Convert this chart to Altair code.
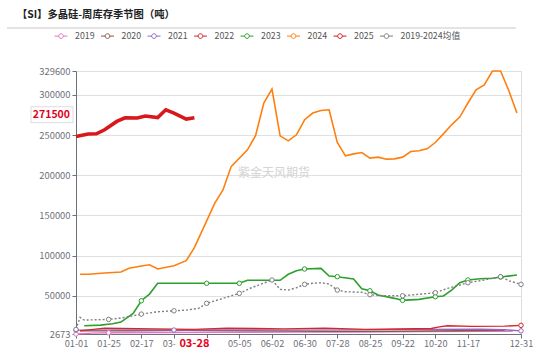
import altair as alt
import pandas as pd

FONT = "Noto Sans CJK SC"
TITLE = "【SI】多晶硅-周库存季节图（吨）"
WATERMARK = "紫金天风期货"

SERIES = ["2019", "2020", "2021", "2022", "2023", "2024", "2025", "2019-2024均值"]
COLORS = ["#e377c2", "#8c564b", "#9467bd", "#d62728", "#2ca02c", "#ff7f0e", "#d7191c", "#7f7f7f"]
WIDTHS = [1.4, 1.4, 1.4, 1.4, 1.6, 1.6, 3.6, 1.4]
AVG = "2019-2024均值"

# category axis: index of week-category -> label
TICK_IDX = [0, 8, 16, 24, 32, 40, 48, 56, 64, 72, 80, 88, 96, 109]
TICK_LABELS = ["01-01", "01-25", "02-17", "03-08", "", "05-05", "06-02", "06-30",
               "07-28", "08-25", "09-22", "10-20", "11-17", "12-31"]
Y_TICKS = [2673, 50000, 100000, 150000, 200000, 250000, 300000, 329600]
Y_MIN, Y_MAX = 2673, 329600

X_2019 = [0, 4, 8, 21, 37, 53, 69, 85, 101, 107]
Y_2019 = [2673, 3800, 4200, 4500, 4800, 5000, 5200, 5600, 6000, 6200]

X_2020 = [1, 13, 27, 45, 61, 77, 93, 105]
Y_2020 = [6500, 6800, 7200, 6600, 5900, 5900, 6800, 7300]

X_2021 = [0, 11, 24, 35, 51, 67, 83, 99, 105, 109]
Y_2021 = [7500, 7800, 7600, 7800, 7500, 7800, 8200, 8500, 8000, 6600]

X_2022 = [1, 7, 19, 29, 37, 51, 61, 71, 79, 87, 89, 91, 97, 105, 109]
Y_2022 = [6600, 10000, 9000, 8400, 10000, 9100, 10000, 8400, 8800, 9600, 11600, 12900, 12200, 12500, 13400]

X_2023 = [2, 6, 9, 11, 14, 16, 18, 20, 32, 40, 42, 50, 52, 54, 56, 60, 62, 64, 68,
          70, 72, 74, 78, 80, 84, 88, 90, 92, 94, 96, 99, 102, 104, 108]
Y_2023 = [12900, 13700, 15400, 17500, 28300, 44000, 52300, 65700, 65700, 65700, 69400,
          69400, 76900, 81300, 83500, 84300, 74700, 73900, 71000, 58900, 56400, 51100,
          47000, 44500, 45700, 49000, 49900, 57300, 66400, 69800, 71400, 71900, 73500, 76000]

X_2024 = [1, 3, 7, 11, 13, 16, 18, 20, 24, 27, 29, 34, 36, 38, 42, 44, 46, 48, 50, 52,
          54, 56, 58, 60, 62, 64, 66, 68, 70, 72, 74, 76, 78, 80, 82, 84, 86, 88, 90,
          92, 94, 96, 98, 100, 102, 104, 106, 108]
Y_2024 = [77000, 77000, 78500, 79700, 84300, 87200, 88800, 83500, 87600, 93800, 110000,
          165300, 181800, 210800, 231600, 249400, 289800, 307200, 249000, 242800, 250300,
          269000, 277300, 280500, 281400, 240700, 224100, 226600, 228300, 221300, 222500,
          220000, 220400, 222500, 229500, 230400, 232900, 240700, 251500, 262700, 272300,
          289800, 306300, 312200, 329600, 329600, 305400, 277300]

X_2025 = [0, 3, 5, 7, 10, 12, 15, 17, 20, 22, 24, 27, 29]
Y_2025 = [248200, 251200, 251500, 256500, 266900, 271500, 271100, 273600, 271800,
          281400, 277300, 269800, 271500]
LAST_2025_LABEL = "03-28"

X_AVG = [0, 1, 2, 8, 12, 16, 20, 24, 27, 30, 32, 36, 40, 43, 48, 50, 52, 54, 56, 58,
         60, 62, 64, 66, 70, 72, 75, 80, 84, 88, 91, 94, 96, 100, 104, 106, 109]
Y_AVG = [8400, 23300, 20000, 20800, 23300, 27400, 30300, 31500, 32400, 34500, 40800,
         47000, 53200, 60200, 69800, 58200, 57300, 60200, 64400, 65700, 66400, 64800,
         57300, 55200, 54500, 51500, 50200, 50200, 52000, 54000, 59400, 63500, 66400,
         69800, 73900, 68900, 64400]

XS = [X_2019, X_2020, X_2021, X_2022, X_2023, X_2024, X_2025, X_AVG]
YS = [Y_2019, Y_2020, Y_2021, Y_2022, Y_2023, Y_2024, Y_2025, Y_AVG]

rows = []
for s, xs, ys, w in zip(SERIES, XS, YS, WIDTHS):
    for x, y in zip(xs, ys):
        rows.append({"series": s, "idx": x, "value": y, "sw": w})
df = pd.DataFrame(rows)

W, H = 445, 263

label_expr = "{" + ",".join(f"'{i}':'{l}'" for i, l in zip(TICK_IDX, TICK_LABELS)) + "}[datum.value]"

x_enc = alt.X("idx:Q", scale=alt.Scale(domain=[0, 109], nice=False, zero=False),
              axis=alt.Axis(values=TICK_IDX, tickCount=50, labelExpr=label_expr, title=None,
                            grid=False, domainColor="#6e7079", tickColor="#6e7079", tickSize=4,
                            labelColor="#6e7079", labelFont=FONT, labelFontSize=9.2,
                            labelPadding=1, labelOverlap=False, labelFlush=False))
y_enc = alt.Y("value:Q", scale=alt.Scale(domain=[Y_MIN, Y_MAX], nice=False, zero=False),
              axis=alt.Axis(values=Y_TICKS, tickCount=50, title=None, format="d", grid=True,
                            gridColor="#e0e0e0", domainColor="#6e7079", tickColor="#6e7079",
                            tickSize=4, labelColor="#6e7079", labelFont=FONT,
                            labelFontSize=9.4, labelPadding=2, labelOverlap=False,
                            labelFlush=False))

LEG_PATH = "M-1,0H-0.36M0.36,0H1M0.36,0A0.36,0.36,0,1,1,-0.36,0A0.36,0.36,0,1,1,0.36,0Z"

color_enc = alt.Color("series:N", sort=SERIES,
                      scale=alt.Scale(domain=SERIES, range=COLORS),
                      legend=alt.Legend(title=None, orient="none", legendX=-22, legendY=-42,
                                        direction="horizontal", columns=8,
                                        symbolType=LEG_PATH, symbolSize=169,
                                        symbolStrokeWidth=1, symbolFillColor="white",
                                        labelFont=FONT, labelFontSize=8.8, labelColor="#555",
                                        columnPadding=3.5, labelOffset=7, padding=0))

lines = alt.Chart(df).transform_filter(f"datum.series != '{AVG}'").mark_line(clip=False).encode(
    x=x_enc,
    y=y_enc,
    color=color_enc,
    strokeWidth=alt.StrokeWidth("sw:Q", scale=None),
    order=alt.Order("idx:Q"),
)

avg_line = alt.Chart(df).transform_filter(f"datum.series == '{AVG}'").mark_line(
    strokeDash=[2, 2], strokeWidth=1.4).encode(
    x="idx:Q", y="value:Q", color=color_enc, order=alt.Order("idx:Q"))

markers = alt.Chart(df).transform_filter(
    "(datum.idx % 8 == 0 || datum.idx == 109) && datum.series != '2024' && datum.series != '2025'"
).mark_point(shape="circle", filled=True, fill="white", size=20, strokeWidth=1, opacity=1).encode(
    x="idx:Q",
    y="value:Q",
    stroke=alt.Stroke("series:N", scale=alt.Scale(domain=SERIES, range=COLORS), legend=None),
)

# annotations
ann_title = alt.Chart(pd.DataFrame({"t": [TITLE]})).mark_text(
    align="left", baseline="middle", font=FONT, fontSize=10.3, fontWeight="bold", color="#222"
).encode(text="t:N", x=alt.value(-59), y=alt.value(-56))

ann_rule = alt.Chart(pd.DataFrame({"a": [0]})).mark_rule(color="#c8c8c8", strokeWidth=1).encode(
    x=alt.value(-69), x2=alt.value(440), y=alt.value(-43))

ann_wm = alt.Chart(pd.DataFrame({"t": [WATERMARK]})).mark_text(
    font=FONT, fontSize=12, color="#d4d4d4").encode(text="t:N", x=alt.value(198), y=alt.value(102))

last = pd.DataFrame({"idx": [X_2025[-1]], "value": [Y_2025[-1]],
                     "lab": [LAST_2025_LABEL], "vlab": [str(Y_2025[-1])]})

x_box = alt.Chart(last).mark_rect(fill="white", xOffset=-19, x2Offset=27).encode(
    x="idx:Q", x2="idx:Q", y=alt.value(H + 4), y2=alt.value(H + 19))
x_txt = alt.Chart(last).mark_text(font=FONT, fontSize=11, fontWeight="bold", color="#e3001b",
                                  baseline="middle").encode(
    x="idx:Q", text="lab:N", y=alt.value(H + 10))

y_rect = alt.Chart(last).mark_rect(fill="white", stroke="#dcdcdc", strokeWidth=1,
                                   height=16, yOffset=-3).encode(
    x=alt.value(-45), x2=alt.value(-3), y="value:Q")
y_txt = alt.Chart(last).mark_text(font=FONT, fontSize=10.5, fontWeight="bold", color="#e3001b",
                                  baseline="middle", align="right", dy=-3).encode(
    x=alt.value(-6), y="value:Q", text="vlab:N")

chart = alt.layer(
    lines, avg_line, markers, ann_title, ann_rule, ann_wm, x_box, x_txt, y_rect, y_txt
).properties(
    width=W, height=H,
    padding={"left": 76, "top": 71, "right": 29, "bottom": 19},
    autosize=alt.AutoSizeParams(type="none"),
).configure_view(stroke=None).configure(background="white")

chart.save("out.html", embed_options={"renderer": "svg", "actions": False})
